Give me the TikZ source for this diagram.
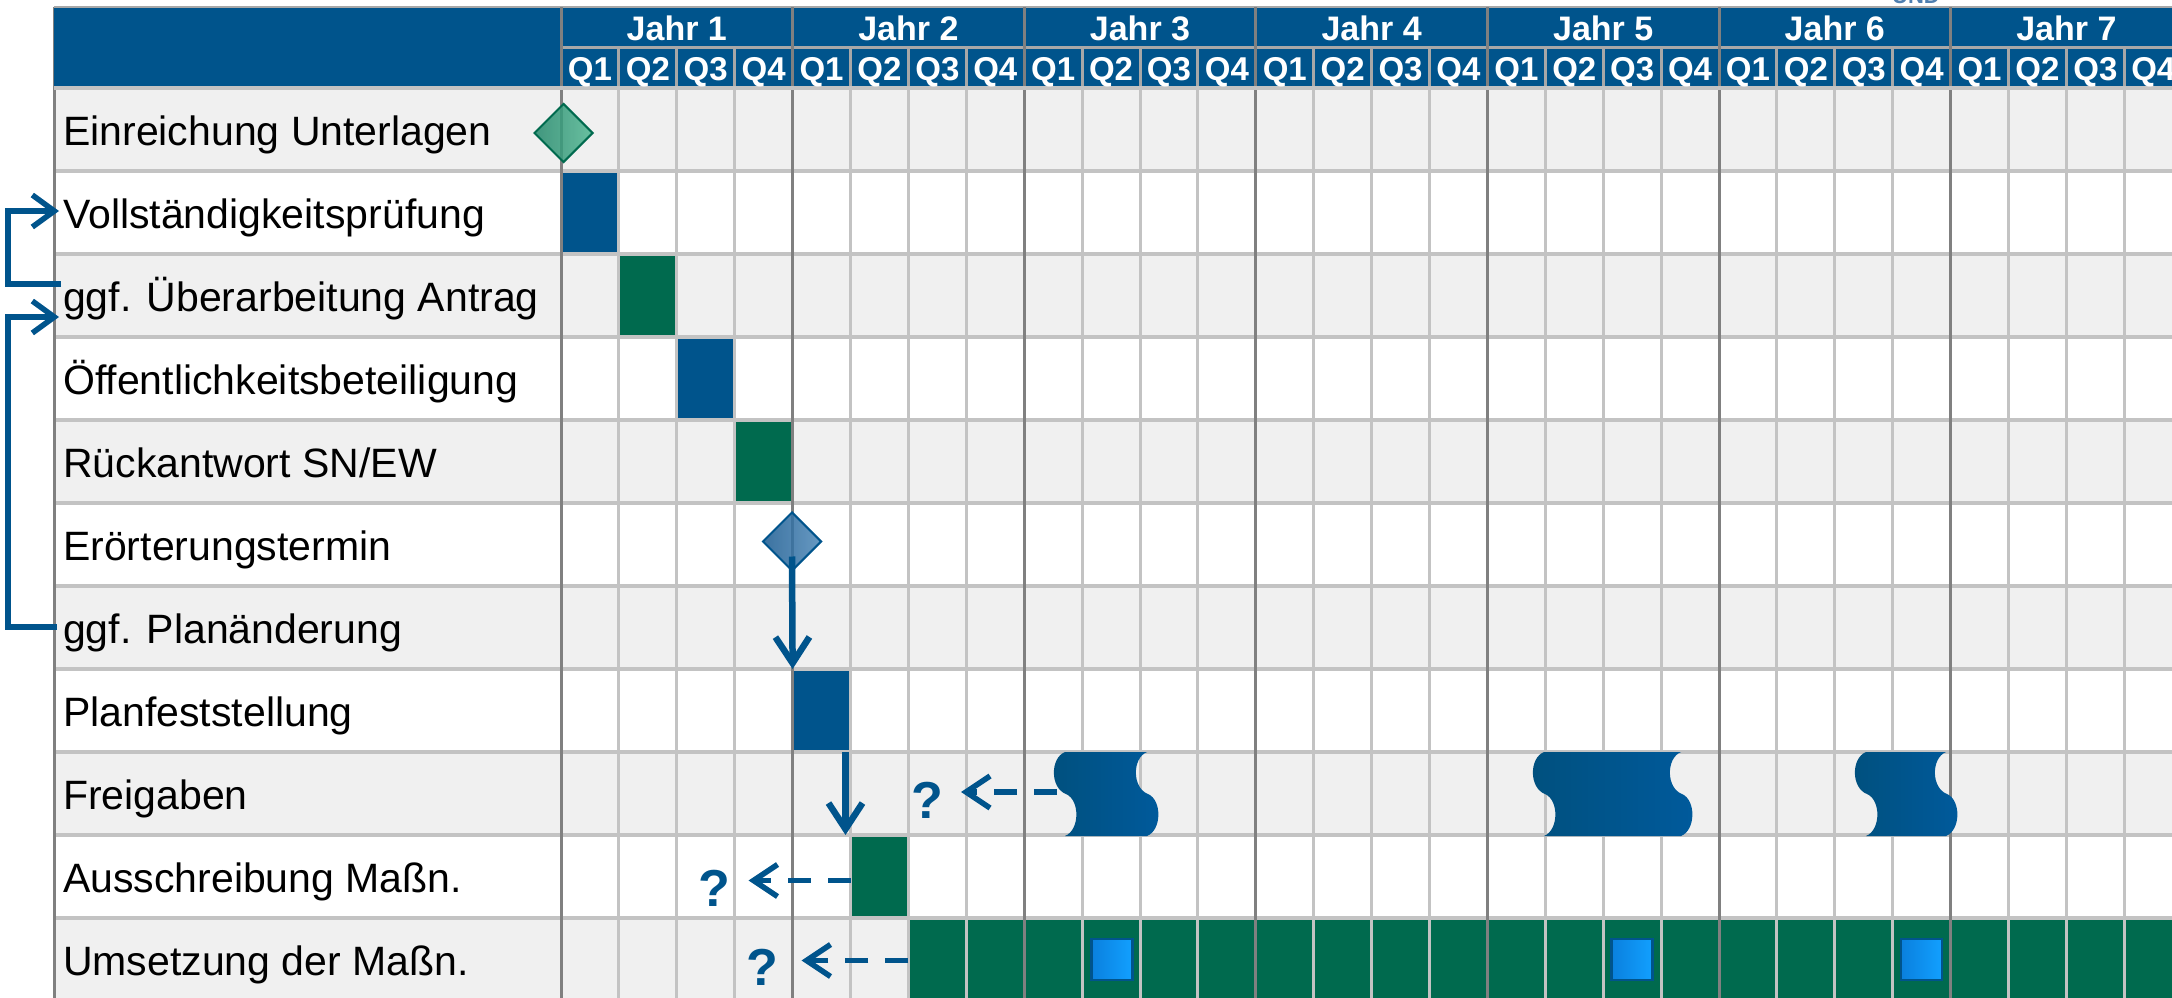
\documentclass[tikz,border=0pt]{standalone}
\usepackage{fontspec}
\setmainfont{Liberation Sans}
\usetikzlibrary{arrows.meta,shapes.geometric}
\definecolor{hblue}{HTML}{00548C}
\definecolor{dgreen}{HTML}{006A4E}
\definecolor{stripe}{HTML}{F0F0F0}
\definecolor{gridl}{HTML}{C3C3C3}
\definecolor{gridd}{HTML}{808080}
\definecolor{hsep}{HTML}{A8A8A8}
\definecolor{sqL}{HTML}{0A80DE}
\definecolor{sqR}{HTML}{12A0FF}
\definecolor{wvL}{HTML}{00507E}
\definecolor{wvR}{HTML}{005A9C}
\definecolor{gdL}{HTML}{23876A}
\definecolor{gdR}{HTML}{52B893}
\definecolor{bdL}{HTML}{1A5A90}
\definecolor{bdR}{HTML}{4D88B8}
\definecolor{undc}{HTML}{4F7FB0}
\newcommand\drawwave[3]{%
  \shade[wave] (#1,752) -- (#2,752)
    .. controls ({#2-15},758) and ({#2-15},788) .. ({#2+1},794)
    .. controls ({#2+15},800) and ({#2+15},830) .. (#2,836)
    -- (#1,836)
    .. controls ({#1+15},830) and ({#1+15},800) .. ({#1+1},794)
    .. controls ({#1-15},788) and ({#1-15},758) .. (#1,752) -- cycle;
  \coordinate (#3) at ({#1-8},792);}
\begin{document}
\begin{tikzpicture}[x=1pt,y=-1pt,
  lbl/.style={anchor=west, inner sep=0pt, text height=30pt, text depth=9pt, font=\fontsize{41}{48}\selectfont},
  yr/.style={inner sep=0pt, text height=24pt, text depth=0pt, text=white, font=\bfseries\fontsize{34}{40}\selectfont},
  qt/.style={inner sep=0pt, text height=24pt, text depth=0pt, text=white, font=\bfseries\fontsize{33}{40}\selectfont},
  cellbar/.style={rectangle, inner sep=0pt, outer sep=0pt, minimum width=57.9pt, minimum height=83pt, anchor=north west},
  barB/.style={cellbar, fill=hblue},
  barG/.style={cellbar, fill=dgreen},
  ms/.style={diamond, inner sep=0pt, minimum width=59pt, minimum height=59pt, line width=2pt, fill opacity=0.85},
  sq/.style={rectangle, inner sep=0pt, minimum size=41pt, draw=hblue, line width=2.5pt, left color=sqL, right color=sqR},
  wave/.style={left color=wvL, right color=wvR},
  qm/.style={inner sep=0pt, text=hblue, font=\bfseries\fontsize{52}{56}\selectfont},
  conn/.style={draw=hblue, line width=6.5pt, -{Straight Barb[length=26pt,width=34pt]}},
  back/.style={draw=hblue, line width=5.5pt, dash pattern=on 23pt off 17pt, -{Straight Barb[length=24pt,width=32pt]}},
  loopar/.style={draw=hblue, line width=5.5pt, -{Straight Barb[length=22pt,width=32pt]}},
]
\useasboundingbox (0,0) rectangle (2172,998);
\clip (0,0) rectangle (2172,998);
% background and stripes
\fill[white] (0,0) rectangle (2172,998);
\foreach \i in {1,3,5,7,9,11}
  \fill[stripe] (54,{88+(\i-1)*83}) rectangle (2180,{88+\i*83});
% bars
\node[barB] (b2) at (561,171) {};
\node[barG] (b3) at (618.9,254) {};
\node[barB] (b4) at (676.8,337) {};
\node[barG] (b5) at (734.7,420) {};
\node[barB] (b8) at (792.6,669) {};
\node[barG] (b10) at (850.5,835) {};
\node[cellbar, fill=dgreen, minimum width=1300pt] (u11) at (908.4,918) {};
% body grid
\foreach \k in {1,...,10}
  \draw[gridl, line width=4pt] (54,{88+\k*83}) -- (2180,{88+\k*83});
\foreach \c in {1,...,27}
  \draw[gridl, line width=3pt] ({561+57.9*\c},88) -- ({561+57.9*\c},1000);
\foreach \n in {0,...,6}
  \draw[gridd, line width=3pt] ({561+231.6*\n},88) -- ({561+231.6*\n},1000);
\draw[gridd, line width=3pt] (54,7) -- (54,1000);
% header
\fill[hblue] (54,7) rectangle (2180,88);
\draw[hsep, line width=2pt] (54,7) -- (2180,7);
\draw[hsep, line width=3pt] (561,48) -- (2180,48);
\foreach \c in {1,...,27}
  \draw[hsep, line width=3pt] ({561+57.9*\c},48) -- ({561+57.9*\c},88);
\foreach \n in {0,...,6}
  \draw[gridd, line width=3pt] ({561+231.6*\n},7) -- ({561+231.6*\n},88);
\draw[gridl, line width=4pt] (54,88) -- (2180,88);
\foreach \n in {1,...,7}
  \node[yr] (y\n) at ({561+231.6*(\n-1)+115.8},28.3) {Jahr \n};
\foreach \c in {0,...,27}{
  \pgfmathtruncatemacro\q{mod(\c,4)+1}
  \node[qt] (q\c) at ({561+57.9*\c+28.95},68.3) {Q\q};
}
\node[font=\bfseries\fontsize{22}{24}\selectfont, text=undc, anchor=base, inner sep=0pt] (und) at (1916,4) {UND};
% labels
\node[lbl] (l1) at (63,{129.5+5.5}) {Einreichung Unterlagen};
\node[lbl] (l2) at (63,{212.5+5.5}) {Vollständigkeitsprüfung};
\node[lbl] (l3) at (63,{295.5+5.5}) {ggf. Überarbeitung Antrag};
\node[lbl] (l4) at (63,{378.5+5.5}) {Öffentlichkeitsbeteiligung};
\node[lbl] (l5) at (63,{461.5+5.5}) {Rückantwort SN/EW};
\node[lbl] (l6) at (63,{544.5+5.5}) {Erörterungstermin};
\node[lbl] (l7) at (63,{627.5+5.5}) {ggf. Planänderung};
\node[lbl] (l8) at (63,{710.5+5.5}) {Planfeststellung};
\node[lbl] (l9) at (63,{793.5+5.5}) {Freigaben};
\node[lbl] (l10) at (63,{876.5+5.5}) {Ausschreibung Maßn.};
\node[lbl] (l11) at (63,{959.5+5.5}) {Umsetzung der Maßn.};
% milestones
\node[ms, draw=dgreen, left color=gdL, right color=gdR] (m1) at (563.5,133) {};
\node[ms, draw=hblue, left color=bdL, right color=bdR] (m6) at (792,541.5) {};
% Freigaben waves
\drawwave{1065}{1147}{w1}
\drawwave{1544}{1681}{w2}
\drawwave{1866}{1946}{w3}
% squares
\node[sq] (s1) at (1111.9,959.5) {};
\node[sq] (s2) at (1632.2,959.5) {};
\node[sq] (s3) at (1921.7,959.5) {};
% question marks
\node[qm] (q9) at (927,800) {?};
\node[qm] (q10) at (714.5,888) {?};
\node[qm] (q11) at (762.5,967) {?};
% connectors
\draw[conn] ([yshift=-15pt]m6.center) -- (b8.north west);
\draw[conn] ([xshift=-5pt]b8.south east) -- ([xshift=-5pt]b10.north west);
\coordinate (a10) at ([yshift=-4pt]b10.west);
\coordinate (a11) at ([yshift=-1pt]u11.west);
\draw[back, shorten >=18pt] (w1) -- (w1 -| q9.east);
\draw[back, shorten >=18pt] (a10) -- (a10 -| q10.east);
\draw[back, shorten >=23pt] (a11) -- (a11 -| q11.east);
\draw[loopar] ([shift={(-2pt,17pt)}]l3.west) -- ++(-53,0) |- ([shift={(-4pt,7pt)}]l2.west);
\draw[loopar] ([shift={(-6pt,6pt)}]l7.west) -- ++(-49,0) |- ([shift={(-4pt,-16pt)}]l3.west);
\end{tikzpicture}
\end{document}
